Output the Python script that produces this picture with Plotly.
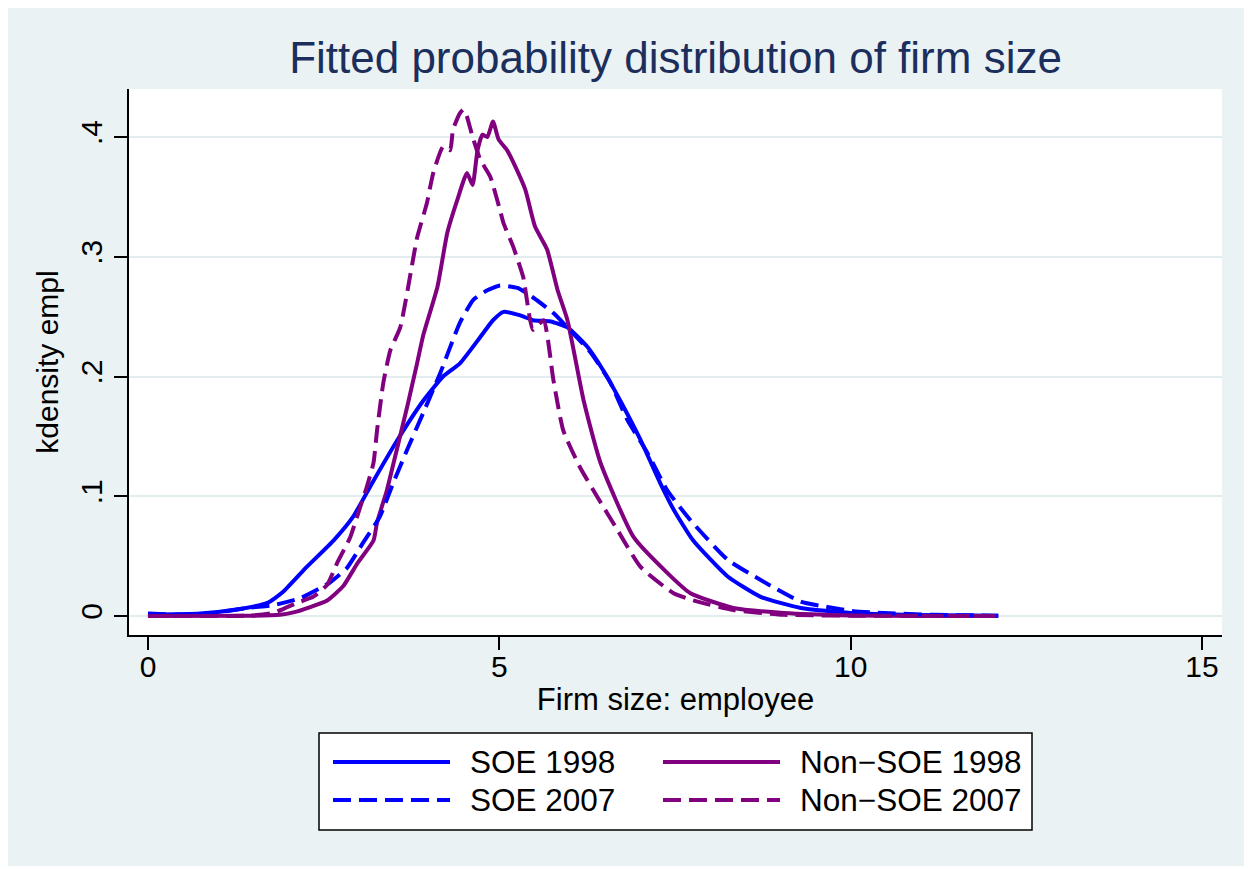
import plotly.graph_objects as go

# kernel density estimates (x = firm size, y = density)
soe98_x = [0, 0.74, 1.21, 1.70, 1.92, 2.26, 2.64, 2.92, 3.20, 3.55, 3.92, 4.20, 4.44, 4.73,
           4.91, 5.06, 5.30, 5.48, 5.73, 5.97, 6.25, 6.48, 6.72, 7.01, 7.29, 7.48, 7.76,
           8.25, 8.72, 9.29, 10.0, 10.95, 12.1]
soe98_y = [0.001, 0.002, 0.005, 0.011, 0.020, 0.041, 0.063, 0.083, 0.112, 0.147, 0.180,
           0.200, 0.211, 0.233, 0.247, 0.254, 0.251, 0.247, 0.246, 0.241, 0.225, 0.205,
           0.180, 0.147, 0.111, 0.089, 0.063, 0.033, 0.016, 0.0067, 0.0025, 0.0008, 0.0002]

soe07_x = [0, 0.74, 1.45, 1.78, 2.17, 2.59, 2.83, 3.06, 3.30, 3.49, 3.69, 3.92, 4.16, 4.44,
           4.63, 4.83, 5.01, 5.26, 5.48, 5.77, 6.05, 6.30, 6.58, 6.82, 7.11, 7.39, 7.72,
           8.25, 8.72, 9.29, 9.67, 10.04, 10.47, 11.18, 12.1]
soe07_y = [0.002, 0.001, 0.007, 0.009, 0.015, 0.028, 0.040, 0.061, 0.083, 0.111, 0.139,
           0.170, 0.203, 0.245, 0.264, 0.272, 0.276, 0.274, 0.266, 0.253, 0.236, 0.220,
           0.195, 0.164, 0.136, 0.105, 0.080, 0.047, 0.030, 0.012, 0.0075, 0.004, 0.0025,
           0.001, 0.0003]

non98_x = [0, 1.45, 1.88, 2.07, 2.31, 2.55, 2.78, 2.98, 3.21, 3.26, 3.40, 3.55, 3.69, 3.83,
           3.92, 4.12, 4.26, 4.40, 4.54, 4.62, 4.69, 4.76, 4.83, 4.91, 4.99, 5.11, 5.23,
           5.37, 5.51, 5.68, 5.83, 5.97, 6.20, 6.44, 6.91, 7.39, 7.72, 8.33, 9.05, 10.0,
           11.0, 12.1]
non98_y = [0, 0.0002, 0.001, 0.003, 0.0075, 0.013, 0.025, 0.044, 0.063, 0.078, 0.105,
           0.141, 0.175, 0.211, 0.235, 0.275, 0.320, 0.347, 0.370, 0.360, 0.389, 0.402,
           0.400, 0.413, 0.398, 0.389, 0.375, 0.356, 0.325, 0.306, 0.272, 0.247, 0.180,
           0.128, 0.066, 0.036, 0.019, 0.0067, 0.0025, 0.0005, 0.0001, 0]

non07_x = [0, 1.45, 1.78, 2.12, 2.35, 2.55, 2.69, 2.88, 3.02, 3.12, 3.21, 3.26, 3.35, 3.45,
           3.59, 3.77, 3.83, 3.97, 4.06, 4.20, 4.30, 4.34, 4.44, 4.49, 4.54, 4.62, 4.73,
           4.87, 5.01, 5.06, 5.20, 5.34, 5.48, 5.63, 5.77, 5.91, 6.15, 6.40, 6.68, 7.01,
           7.48, 7.76, 8.33, 9.05, 10.0, 11.0, 12.1]
non07_y = [0, 0.0003, 0.0025, 0.011, 0.016, 0.026, 0.044, 0.066, 0.091, 0.109, 0.128,
           0.155, 0.195, 0.222, 0.241, 0.297, 0.316, 0.345, 0.370, 0.392, 0.389, 0.406,
           0.420, 0.423, 0.417, 0.400, 0.381, 0.367, 0.339, 0.328, 0.308, 0.283, 0.239,
           0.247, 0.197, 0.155, 0.124, 0.099, 0.072, 0.041, 0.019, 0.013, 0.005, 0.001,
           0.0003, 0.0001, 0]

y_ticks = [0, 0.1, 0.2, 0.3, 0.4]
y_tick_labels = ["0", ".1", ".2", ".3", ".4"]
x_ticks = [0, 5, 10, 15]

BLUE = "#0000FF"
PURPLE = "#800080"
BG = "#EAF2F3"
DASH = "18px,8px"
FONT = "Liberation Sans, Arial, Helvetica, sans-serif"
LW = 4

series = [
    ("SOE 1998", soe98_x, soe98_y, BLUE, "solid"),
    ("Non\u2212SOE 1998", non98_x, non98_y, PURPLE, "solid"),
    ("SOE 2007", soe07_x, soe07_y, BLUE, DASH),
    ("Non\u2212SOE 2007", non07_x, non07_y, PURPLE, DASH),
]

# the page adds an 8px body margin, so the figure sits at (8, 8) on screen
OFF = 8
W, H = 1240, 858
L, T = 129 - OFF, 89 - OFF
R = W - (1222 - OFF)
B = H - (635 - OFF)
PW, PH = W - L - R, H - T - B


def px(x):
    return (x - OFF - L) / PW


def py(y):
    return (H - B - (y - OFF)) / PH


fig = go.Figure()
for name, xs, ys, color, dash in series:
    fig.add_trace(go.Scatter(
        x=xs, y=ys, mode="lines", name=name, showlegend=False,
        line=dict(color=color, width=LW, dash=dash, shape="spline", smoothing=0.5),
    ))

# Stata-style legend box drawn by hand (long line samples)
shapes = [
    dict(type="rect", xref="paper", yref="paper",
         x0=px(319), x1=px(1032), y0=py(830), y1=py(733),
         fillcolor="white", line=dict(color="black", width=1.5)),
]
annotations = []
col_x = [(333, 450, 468), (663, 780, 798)]
row_y = [762, 800]
for i, (name, xs, ys, color, dash) in enumerate(series):
    c0, c1, tx = col_x[i % 2]
    ry = row_y[i // 2]
    shapes.append(dict(type="line", xref="paper", yref="paper",
                       x0=px(c0), x1=px(c1), y0=py(ry), y1=py(ry),
                       line=dict(color=color, width=LW, dash=dash)))
    annotations.append(dict(xref="paper", yref="paper", x=px(tx), y=py(ry),
                            text=name, showarrow=False, xanchor="left", yanchor="middle",
                            font=dict(size=31.5, color="black", family=FONT)))

fig.update_layout(
    width=W, height=H,
    margin=dict(l=L, r=R, t=T, b=B),
    paper_bgcolor=BG,
    plot_bgcolor="white",
    font=dict(family=FONT, color="black"),
    title=dict(text="Fitted probability distribution of firm size",
               x=0.5, xref="paper", y=1 - (58 - OFF) / H, yref="container",
               yanchor="middle", font=dict(size=44, color="#1C2E5C", family=FONT)),
    shapes=shapes,
    annotations=annotations,
    showlegend=False,
)

fig.update_xaxes(
    range=[-0.27, 15.285], tickvals=x_ticks, ticks="outside", ticklen=13, tickwidth=2,
    tickcolor="black", showline=True, linecolor="black", linewidth=2, showgrid=False,
    zeroline=False, tickfont=dict(size=30), ticklabelstandoff=-9,
    title=dict(text="Firm size: employee", font=dict(size=31), standoff=6),
)
fig.update_yaxes(
    range=[-0.01587, 0.4401], tickvals=y_ticks, ticktext=y_tick_labels, tickangle=-90,
    ticks="outside", ticklen=13, tickwidth=2, tickcolor="black", showline=True,
    linecolor="black", linewidth=2, showgrid=True, gridcolor="#E3ECEE", gridwidth=2,
    zeroline=False, tickfont=dict(size=30), title=dict(text="kdensity empl",
    font=dict(size=30), standoff=8),
)

fig.write_html("out.html")
